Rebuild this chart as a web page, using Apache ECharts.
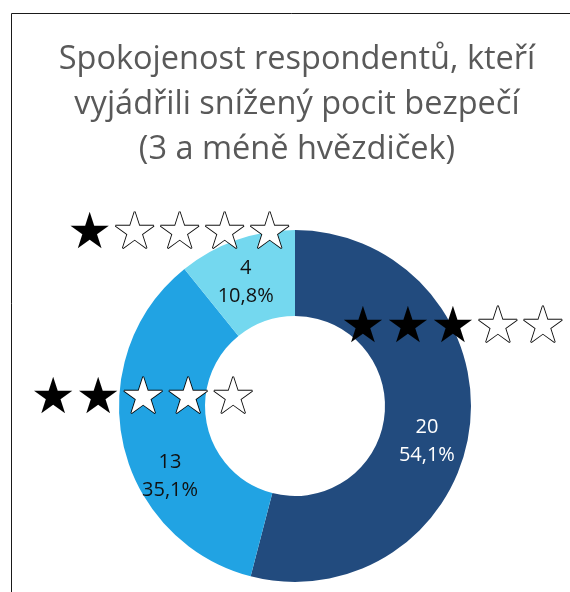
<!DOCTYPE html>
<html>
<head>
<meta charset="utf-8">
<script src="https://cdn.jsdelivr.net/npm/echarts@6/dist/echarts.min.js"></script>
<style>
  html, body { margin: 0; padding: 0; background: #fff; }
  #chart { width: 570px; height: 592px; }
</style>
</head>
<body>
<div id="chart"></div>
<script>
// Satisfaction ratings (star categories) and respondent counts
const ratings = ['★★★☆☆', '★★☆☆☆', '★☆☆☆☆'];
const counts = [20, 13, 4];
const percents = ['54,1%', '35,1%', '10,8%'];
const colors = ['#224b7e', '#21a3e3', '#74d8ef'];
const titleLines = [
  'Spokojenost respondentů, kteří',
  'vyjádřili snížený pocit bezpečí',
  '(3 a méně hvězdiček)'
];

// Offsets nudging the labels away from the slice mid-points
const valueShift = [[-3, 18], [8, 42], [-4, 5]];
const starShift = [[23, -94], [-19, -35], [-70, -43]];

const pieData = ratings.map((name, i) => ({
  name: name,
  value: counts[i],
  itemStyle: { color: colors[i] }
}));

function starText(name) {
  return name.split('').map(ch => ch === '★' ? '{f|★}' : '{e|★}').join('');
}

const chart = echarts.init(document.getElementById('chart'), null, { renderer: 'canvas' });
chart.setOption({
  animation: false,
  title: {
    text: titleLines.join('\n'),
    left: 292,
    top: 32,
    textAlign: 'center',
    textStyle: {
      fontFamily: 'Open Sans',
      fontSize: 32.5,
      fontWeight: 'normal',
      color: '#595959',
      lineHeight: 45
    }
  },
  graphic: [{
    type: 'rect',
    shape: { x: 11.5, y: 13.5, width: 700, height: 700 },
    style: { fill: 'none', stroke: '#1a1a1a', lineWidth: 1 },
    silent: true
  }],
  series: [
    {
      type: 'pie',
      center: [295, 406],
      radius: [90, 176],
      startAngle: 90,
      clockwise: true,
      avoidLabelOverlap: false,
      itemStyle: { borderColor: '#fff', borderWidth: 3 },
      label: {
        show: true,
        position: 'inside',
        fontFamily: 'Open Sans',
        fontSize: 20,
        lineHeight: 28,
        formatter: p => p.value + '\n' + percents[p.dataIndex],
        color: '#111'
      },
      labelLayout: p => ({ dx: valueShift[p.dataIndex][0], dy: valueShift[p.dataIndex][1] }),
      data: pieData.map((d, i) => Object.assign({}, d, i === 0 ? { label: { color: '#fff' } } : {}))
    },
    {
      type: 'pie',
      center: [295, 406],
      radius: [90, 176],
      startAngle: 90,
      clockwise: true,
      silent: true,
      avoidLabelOverlap: false,
      itemStyle: { color: 'rgba(0,0,0,0)' },
      label: {
        show: true,
        position: 'inside',
        formatter: p => starText(p.name),
        rich: {
          f: {
            fontFamily: 'DejaVu Sans',
            fontSize: 50,
            width: 45,
            align: 'center',
            color: '#000'
          },
          e: {
            fontFamily: 'DejaVu Sans',
            fontSize: 50,
            width: 45,
            align: 'center',
            color: '#fff',
            textBorderColor: '#000',
            textBorderWidth: 1.8
          }
        }
      },
      labelLayout: p => ({ dx: starShift[p.dataIndex][0], dy: starShift[p.dataIndex][1] }),
      data: pieData
    }
  ]
});
</script>
</body>
</html>
